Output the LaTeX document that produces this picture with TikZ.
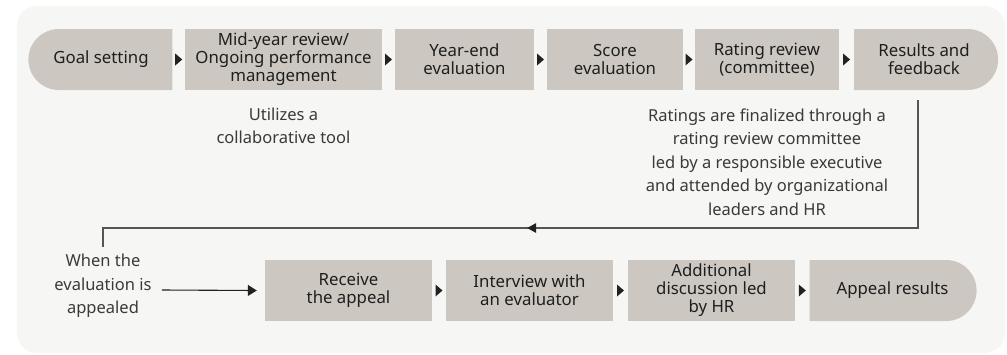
\documentclass[tikz,border=0pt]{standalone}
\usepackage{fontspec}
\setmainfont{Noto Sans}
\usetikzlibrary{shapes.misc,calc,arrows.meta}
\definecolor{bgcol}{HTML}{F6F6F5}
\definecolor{boxcol}{HTML}{CCC8C1}
\definecolor{txtcol}{HTML}{1E1E1E}
\definecolor{notecol}{HTML}{3A3A3A}
\definecolor{linecol}{HTML}{555555}
\definecolor{tricol}{HTML}{222222}
\tikzset{
  stepbox/.style={rectangle, fill=boxcol, text=txtcol, inner sep=0pt, align=center,
    minimum height=61pt, font=\fontsize{16.8pt}{18pt}\selectfont},
  leftend/.style={stepbox, rounded rectangle, rounded rectangle right arc=none},
  rightend/.style={stepbox, rounded rectangle, rounded rectangle left arc=none},
  notetext/.style={text=notecol, align=center, inner sep=0pt,
    font=\fontsize{16.5pt}{23.5pt}\selectfont},
  feedline/.style={draw=linecol, line width=1.1pt},
}
\newcommand{\steptri}[2]{\fill[tricol] ($(#1.east)!0.5!(#2.west)$) ++(-3.5,-6) -- ++(7,6) -- ++(-7,6) -- cycle;}
\begin{document}
\begin{tikzpicture}[x=1pt,y=-1pt]
\useasboundingbox (0,0) rectangle (1007,354);
\fill[bgcol, rounded corners=20pt] (17,6) rectangle (1005,353);

% row 1
\node[leftend, minimum width=144pt] (goal) at (101,59.5) {Goal setting};
\node[stepbox, minimum width=197pt] (mid) at (283.5,59.5) {Mid-year review/\\Ongoing performance\\management};
\node[stepbox, minimum width=139pt] (year) at (464.5,59.5) {Year-end\\evaluation};
\node[stepbox, minimum width=136pt] (score) at (615,59.5) {Score\\evaluation};
\node[stepbox, minimum width=144pt] (rating) at (767,59.5) {Rating review\\(committee)};
\node[rightend, minimum width=144pt] (res) at (924,59.5) {Results and\\feedback};
\steptri{goal}{mid}
\steptri{mid}{year}
\steptri{year}{score}
\steptri{score}{rating}
\steptri{rating}{res}

\node[notetext] (note1) at (283.5,126) {Utilizes a\\collaborative tool};
\node[notetext] (note2) at (767,162) {Ratings are finalized through a\\rating review committee\\led by a responsible executive\\and attended by organizational\\leaders and HR};

% feedback line
\coordinate (f1) at ($(res.south)+(-6,10)$);
\coordinate (f2) at (f1 |- 0,228);
\coordinate (f4) at (103,247);
\coordinate (f3) at (f4 |- 0,228);
\draw[feedline] (f1) -- (f2) -- (f3) -- (f4);
\coordinate (fa) at ($(f2)!0.474!(f3)$);
\fill[tricol] (fa) ++(-4.5,0) -- ++(9,-5) -- ++(0,10) -- cycle;

% row 2
\node[notetext] (when) at (103,286) {When the\\evaluation is\\appealed};
\node[stepbox, minimum width=167pt] (recv) at (348.5,290.5) {Receive\\the appeal};
\node[stepbox, minimum width=167pt] (intv) at (529.5,290.5) {Interview with\\an evaluator};
\node[stepbox, minimum width=167pt] (add) at (711.5,290.5) {Additional\\discussion led\\by HR};
\node[rightend, minimum width=167pt] (appr) at (892.5,290.5) {Appeal results};
\steptri{recv}{intv}
\steptri{intv}{add}
\steptri{add}{appr}

\draw[feedline, -{Triangle[length=9pt,width=11pt]}, tricol] ($(when.east)+(10,4)$) -- ($(recv.west)+(-8,0)$);
\end{tikzpicture}
\end{document}
